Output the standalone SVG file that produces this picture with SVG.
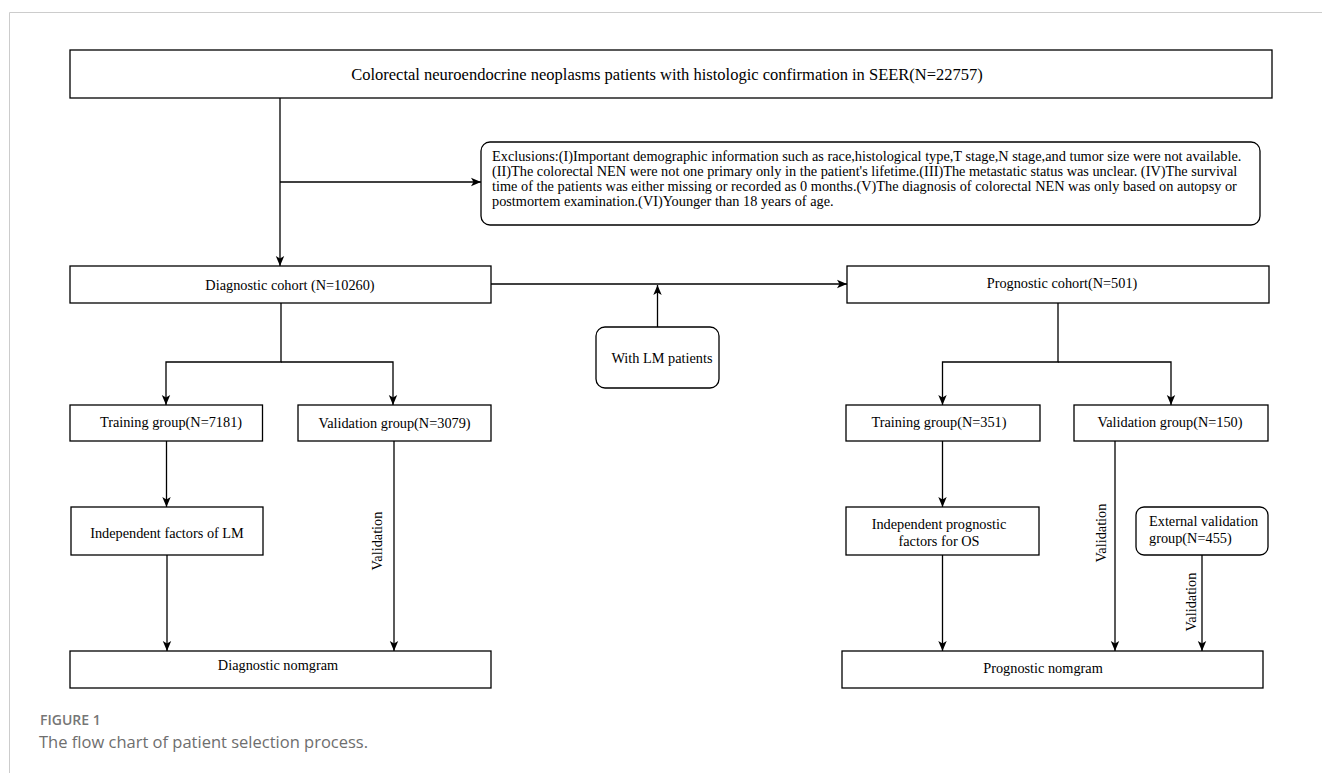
<svg xmlns="http://www.w3.org/2000/svg" width="1322" height="773" viewBox="0 0 1322 773">
<style>
.box{fill:#fff;stroke:#000;stroke-width:1.3}
.t{font-family:"Liberation Serif","Times New Roman",serif;font-size:14.3px;fill:#000}
.c{text-anchor:middle}
.ln{fill:none;stroke:#000;stroke-width:1.3}
.cap{font-family:"Open Sans","Noto Sans",sans-serif;fill:#6e6e6e}
</style>
<defs>
<marker id="arr" viewBox="0 0 10 10" refX="10" refY="5" markerWidth="10" markerHeight="10" markerUnits="userSpaceOnUse" orient="auto">
<path d="M0,0.8 L10,5 L0,9.2 L2.5,5 z" fill="#000"/>
</marker>
</defs>
<rect width="1322" height="773" fill="#fff"/>
<path d="M9.5,773 V12.5 H1322" fill="none" stroke="#cccccc" stroke-width="1"/>

<g id="connectors">
<path class="ln" d="M280,98 V266" marker-end="url(#arr)"/>
<path class="ln" d="M280,182 H481" marker-end="url(#arr)"/>
<path class="ln" d="M491,284 H847" marker-end="url(#arr)"/>
<path class="ln" d="M657.5,327 V285" marker-end="url(#arr)"/>
<path class="ln" d="M281,303 V362 H166 V405" marker-end="url(#arr)"/>
<path class="ln" d="M281,362 H393 V405" marker-end="url(#arr)"/>
<path class="ln" d="M1058,303 V362 H942.5 V405" marker-end="url(#arr)"/>
<path class="ln" d="M1058,362 H1171 V405" marker-end="url(#arr)"/>
<path class="ln" d="M166.5,441 V507" marker-end="url(#arr)"/>
<path class="ln" d="M167,555 V651" marker-end="url(#arr)"/>
<path class="ln" d="M394,441 V651" marker-end="url(#arr)"/>
<path class="ln" d="M942.5,441 V507" marker-end="url(#arr)"/>
<path class="ln" d="M942.5,555 V651" marker-end="url(#arr)"/>
<path class="ln" d="M1115,441 V651" marker-end="url(#arr)"/>
<path class="ln" d="M1202,555 V651" marker-end="url(#arr)"/>
<text class="t c" transform="translate(382,541) rotate(-90)">Validation</text>
<text class="t c" transform="translate(1106,533) rotate(-90)">Validation</text>
<text class="t c" transform="translate(1196,602) rotate(-90)">Validation</text>
</g>

<g id="n-top">
<rect class="box" x="70" y="50" width="1202" height="48"/>
<text class="t c" x="667" y="80" style="font-size:16.5px">Colorectal neuroendocrine neoplasms patients with histologic confirmation in SEER(N=22757)</text>
</g>

<g id="n-exclusions">
<rect class="box" x="481" y="142" width="779" height="83" rx="9"/>
<text class="t" x="492" y="161">Exclusions:(I)Important demographic information such as race,histological type,T stage,N stage,and tumor size were not available.</text>
<text class="t" x="492" y="176">(II)The colorectal NEN were not one primary only in the patient's lifetime.(III)The metastatic status was unclear. (IV)The survival</text>
<text class="t" x="492" y="191">time of the patients was either missing or recorded as 0 months.(V)The diagnosis of colorectal NEN was only based on autopsy or</text>
<text class="t" x="492" y="206">postmortem examination.(VI)Younger than 18 years of age.</text>
</g>

<g id="n-diag">
<rect class="box" x="70" y="266" width="421" height="37"/>
<text class="t c" x="290" y="290">Diagnostic cohort (N=10260)</text>
</g>

<g id="n-lm">
<rect class="box" x="596" y="327" width="123" height="61" rx="9"/>
<text class="t c" x="662" y="363">With LM patients</text>
</g>

<g id="n-prog">
<rect class="box" x="847" y="266" width="422" height="37"/>
<text class="t c" x="1062" y="288">Prognostic cohort(N=501)</text>
</g>

<g id="n-train-l">
<rect class="box" x="70" y="405" width="192.5" height="36"/>
<text class="t c" x="171" y="427">Training group(N=7181)</text>
</g>

<g id="n-val-l">
<rect class="box" x="298" y="405" width="193" height="36"/>
<text class="t c" x="394.5" y="428">Validation group(N=3079)</text>
</g>

<g id="n-train-r">
<rect class="box" x="846" y="405" width="194" height="36"/>
<text class="t c" x="939" y="427">Training group(N=351)</text>
</g>

<g id="n-val-r">
<rect class="box" x="1074" y="405" width="194" height="36"/>
<text class="t c" x="1170" y="427">Validation group(N=150)</text>
</g>

<g id="n-indep-lm">
<rect class="box" x="71" y="507" width="192" height="48"/>
<text class="t c" x="167" y="538">Independent factors of LM</text>
</g>

<g id="n-indep-os">
<rect class="box" x="846" y="507" width="193" height="48"/>
<text class="t c" x="939" y="529">Independent prognostic</text>
<text class="t c" x="939" y="546">factors for OS</text>
</g>

<g id="n-ext">
<rect class="box" x="1136" y="507" width="132" height="48" rx="8"/>
<text class="t" x="1149" y="526">External validation</text>
<text class="t" x="1149" y="543">group(N=455)</text>
</g>

<g id="n-diag-nom">
<rect class="box" x="70" y="651" width="421" height="37"/>
<text class="t c" x="278" y="670">Diagnostic nomgram</text>
</g>

<g id="n-prog-nom">
<rect class="box" x="842" y="651" width="421" height="37"/>
<text class="t c" x="1043" y="673">Prognostic nomgram</text>
</g>

<g id="caption">
<text class="cap" x="40" y="725" style="font-size:14px;font-weight:600;fill:#767676">FIGURE 1</text>
<text class="cap" x="39" y="748" style="font-size:16.5px">The flow chart of patient selection process.</text>
</g>
</svg>
